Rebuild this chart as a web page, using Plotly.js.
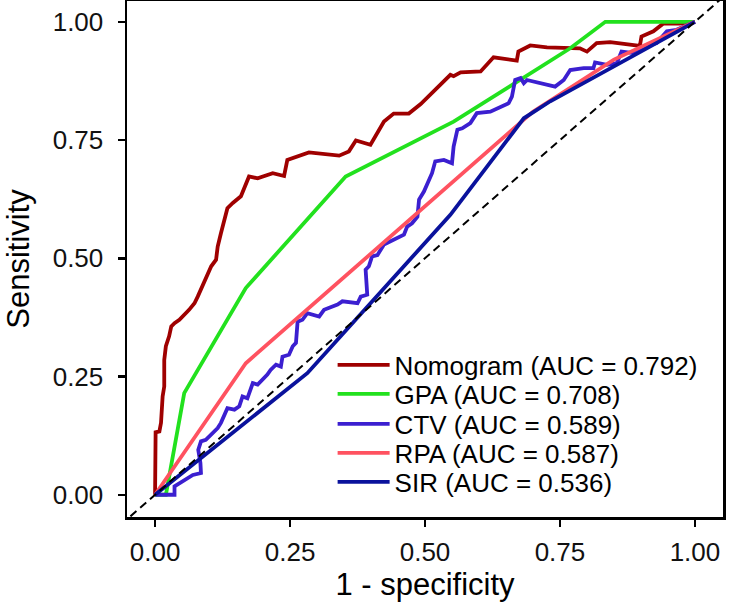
<!DOCTYPE html>
<html>
<head>
<meta charset="utf-8">
<script src="https://cdn.plot.ly/plotly-3.0.1.min.js"></script>
<style>
  html, body { margin: 0; padding: 0; background: #fff; }
  #roc { width: 736px; height: 603px; }
</style>
</head>
<body>
<div id="roc"></div>
<script>
// ROC curves (1 - specificity vs sensitivity)

const nomoFpr = [0, 0, 0.001, 0.008, 0.011, 0.014, 0.017, 0.017, 0.020, 0.026, 0.030, 0.036, 0.045, 0.063, 0.073, 0.079,
  0.094, 0.104, 0.113, 0.116, 0.122, 0.134, 0.144, 0.159, 0.174, 0.190, 0.218, 0.239, 0.245, 0.261, 0.285, 0.341,
  0.359, 0.372, 0.399, 0.424, 0.442, 0.470, 0.492, 0.547, 0.553, 0.566, 0.603, 0.627, 0.670, 0.673, 0.695, 0.726,
  0.787, 0.800, 0.818, 0.843, 0.898, 0.901, 0.923, 0.941, 0.972, 1];
const nomoTpr = [0, 0.102, 0.132, 0.134, 0.152, 0.208, 0.229, 0.285, 0.314, 0.335, 0.356, 0.363, 0.370, 0.391, 0.405, 0.419,
  0.458, 0.483, 0.497, 0.525, 0.553, 0.606, 0.617, 0.631, 0.673, 0.669, 0.680, 0.674, 0.708, 0.715, 0.724, 0.717,
  0.726, 0.749, 0.740, 0.789, 0.806, 0.806, 0.826, 0.888, 0.885, 0.893, 0.895, 0.925, 0.918, 0.937, 0.950, 0.946,
  0.944, 0.937, 0.955, 0.957, 0.949, 0.969, 0.980, 0.996, 0.996, 1];

const gpaFpr = [0, 0.020, 0.054, 0.168, 0.353, 0.553, 0.769, 0.834, 1];
const gpaTpr = [0, 0, 0.215, 0.437, 0.673, 0.789, 0.944, 1, 1];

const ctvFpr = [0, 0.036, 0.036, 0.057, 0.057, 0.070, 0.070, 0.085, 0.084, 0.080, 0.085, 0.094, 0.116, 0.122, 0.134, 0.147,
  0.156, 0.162, 0.171, 0.181, 0.190, 0.208, 0.214, 0.224, 0.233, 0.236, 0.248, 0.255, 0.261, 0.264, 0.273, 0.282,
  0.304, 0.313, 0.338, 0.347, 0.375, 0.381, 0.393, 0.390, 0.396, 0.402, 0.412, 0.424, 0.442, 0.461, 0.467, 0.476,
  0.486, 0.489, 0.498, 0.513, 0.519, 0.535, 0.550, 0.553, 0.560, 0.569, 0.584, 0.590, 0.596, 0.621, 0.640, 0.655,
  0.661, 0.667, 0.677, 0.683, 0.689, 0.741, 0.757, 0.769, 0.794, 0.812, 0.815, 0.837, 0.855, 0.864, 0.886, 0.917,
  0.929, 0.948, 0.966, 0.975, 1];
const ctvTpr = [0, 0, 0.018, 0.032, 0.032, 0.042, 0.042, 0.046, 0.067, 0.095, 0.113, 0.116, 0.141, 0.152, 0.183, 0.180,
  0.187, 0.208, 0.204, 0.236, 0.233, 0.254, 0.264, 0.275, 0.271, 0.292, 0.296, 0.314, 0.321, 0.366, 0.370, 0.384,
  0.377, 0.391, 0.402, 0.409, 0.405, 0.419, 0.423, 0.476, 0.483, 0.504, 0.507, 0.529, 0.539, 0.550, 0.567, 0.574,
  0.588, 0.624, 0.641, 0.680, 0.705, 0.708, 0.701, 0.736, 0.772, 0.775, 0.786, 0.796, 0.807, 0.810, 0.821, 0.828,
  0.842, 0.877, 0.881, 0.870, 0.877, 0.863, 0.877, 0.898, 0.902, 0.902, 0.914, 0.909, 0.912, 0.937, 0.934, 0.951,
  0.955, 0.980, 0.983, 0.987, 1];

const rpaFpr = [0, 0.168, 0.700, 0.850, 1];
const rpaTpr = [0, 0.278, 0.810, 0.920, 1];

const sirFpr = [0, 0.282, 0.547, 0.683, 0.732, 1];
const sirTpr = [0, 0.257, 0.592, 0.796, 0.832, 1];

const seriesNames = ['Nomogram (AUC = 0.792)', 'GPA (AUC = 0.708)', 'CTV (AUC = 0.589)',
  'RPA (AUC = 0.587)', 'SIR (AUC = 0.536)'];
const tickVals = [0, 0.25, 0.5, 0.75, 1];
const tickText = ['0.00', '0.25', '0.50', '0.75', '1.00'];
const diag = [-0.1, 1.1];

const colors = ['#9f0000', '#22e11e', '#3b1fd0', '#ff5260', '#0a129c'];
const xs = [nomoFpr, gpaFpr, ctvFpr, rpaFpr, sirFpr];
const ys = [nomoTpr, gpaTpr, ctvTpr, rpaTpr, sirTpr];

const FONT = 'Liberation Sans, Arial, sans-serif';

// one legend per curve so the rows can sit as tight as in the figure
const legendIds = ['legend', 'legend2', 'legend3', 'legend4', 'legend5'];
const rowY = [0.2946, 0.2384, 0.1802, 0.1240, 0.0678];

const traces = seriesNames.map((name, i) => ({
  x: xs[i],
  y: ys[i],
  type: 'scatter',
  mode: 'lines',
  name: name,
  legend: legendIds[i],
  line: { color: colors[i], width: 3.8 },
  hoverinfo: 'skip'
}));

// chance line
traces.push({
  x: diag,
  y: diag,
  type: 'scatter',
  mode: 'lines',
  line: { color: '#000', width: 2, dash: '8px,5px' },
  showlegend: false,
  hoverinfo: 'skip'
});

const axisBase = {
  tickvals: tickVals,
  ticktext: tickText,
  ticks: 'outside',
  ticklen: 7,
  tickwidth: 2.5,
  tickcolor: '#000',
  showline: true,
  mirror: true,
  linecolor: '#000',
  linewidth: 2.5,
  showgrid: false,
  zeroline: false,
  tickfont: { family: FONT, size: 26, color: '#111' }
};

const layout = {
  width: 736,
  height: 603,
  margin: { l: 127, r: 13, t: 1, b: 86 },
  paper_bgcolor: '#fff',
  plot_bgcolor: '#fff',
  font: { family: FONT, color: '#000' },
  xaxis: Object.assign({}, axisBase, {
    range: [-0.052, 1.052],
    ticklabelstandoff: 3,
    title: { text: '1 - specificity', font: { family: FONT, size: 31, color: '#000' }, standoff: 3 }
  }),
  yaxis: Object.assign({}, axisBase, {
    range: [-0.047, 1.044],
    ticklabelstandoff: 9,
    title: { text: 'Sensitivity', font: { family: FONT, size: 31, color: '#000' }, standoff: 14 }
  }),
  showlegend: true
};

legendIds.forEach((id, i) => {
  layout[id] = {
    x: 0.345, xanchor: 'left',
    y: rowY[i], yanchor: 'middle',
    bgcolor: 'rgba(0,0,0,0)',
    borderwidth: 0,
    font: { family: FONT, size: 26, color: '#000' },
    itemwidth: 52
  };
});

Plotly.newPlot('roc', traces, layout, { displayModeBar: false, staticPlot: true });
</script>
</body>
</html>
